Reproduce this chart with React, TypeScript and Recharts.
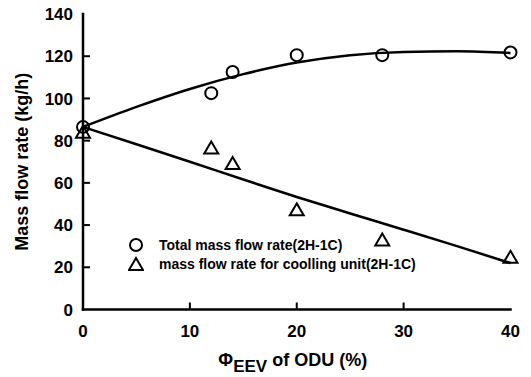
import React from 'react';
import {
  ComposedChart,
  Line,
  Scatter,
  XAxis,
  YAxis,
  Legend,
  Label,
} from 'recharts';

const FONT = '"Liberation Sans", Arial, Helvetica, sans-serif';

// measured points
const openingPct = [0, 12, 14, 20, 28, 40];
const totalFlow = [86.5, 102.5, 112.5, 120.5, 120.5, 121.8];
const coolingFlow = [84, 76.5, 69.2, 47.2, 32.9, 24.7];

// fitted curves
const fitPct = [0, 5, 10, 15, 20, 25, 30, 35, 40];
const totalFit = [86.5, 96, 104.5, 111.5, 117, 120.5, 122, 122.3, 121.5];
const coolingFit = [86.5, 78.3, 70, 61.6, 53.3, 45.5, 37.8, 30, 22];

const xTicks = [0, 10, 20, 30, 40];
const yTicks = [0, 20, 40, 60, 80, 100, 120, 140];

const seriesNames = [
  'Total mass flow rate(2H-1C)',
  'mass flow rate for coolling unit(2H-1C)',
];

const toPoints = (xs: number[], ys: number[]) => xs.map((x, i) => ({ x, y: ys[i] }));

const totalData = toPoints(openingPct, totalFlow);
const coolingData = toPoints(openingPct, coolingFlow);
const totalFitData = toPoints(fitPct, totalFit);
const coolingFitData = toPoints(fitPct, coolingFit);

const TICK_LEN = 7;
const AXIS_W = 2.5;

const isInner = (v: number, lo: number, hi: number) => v > lo && v < hi;

const BottomTick = (props: any) => {
  const { x, y, payload } = props;
  return (
    <g>
      {isInner(payload.value, 0, 40) && (
        <line x1={x} x2={x} y1={y} y2={y - TICK_LEN} stroke="#000" strokeWidth={2} />
      )}
      <text x={x} y={y + 27} textAnchor="middle" fontFamily={FONT} fontWeight="bold" fontSize={17} fill="#000">
        {payload.value}
      </text>
    </g>
  );
};

const TopTick = (props: any) => {
  const { x, y, payload } = props;
  if (!isInner(payload.value, 0, 40)) return <g />;
  return <line x1={x} x2={x} y1={y} y2={y + TICK_LEN} stroke="#000" strokeWidth={2} />;
};

const LeftTick = (props: any) => {
  const { x, y, payload } = props;
  return (
    <g>
      {isInner(payload.value, 0, 140) && (
        <line x1={x} x2={x + TICK_LEN} y1={y} y2={y} stroke="#000" strokeWidth={2} />
      )}
      <text x={x - 10} y={y} dy="0.36em" textAnchor="end" fontFamily={FONT} fontWeight="bold" fontSize={17} fill="#000">
        {payload.value}
      </text>
    </g>
  );
};

const RightTick = (props: any) => {
  const { x, y, payload } = props;
  if (!isInner(payload.value, 0, 140)) return <g />;
  return <line x1={x} x2={x - TICK_LEN} y1={y} y2={y} stroke="#000" strokeWidth={2} />;
};

const CircleMark = (props: any) => {
  const { cx, cy } = props;
  return <circle cx={cx} cy={cy} r={6} fill="none" stroke="#000" strokeWidth={2} />;
};

const TriangleMark = (props: any) => {
  const { cx, cy } = props;
  return (
    <path
      d={`M${cx},${cy - 6.5}L${cx + 7},${cy + 5.5}L${cx - 7},${cy + 5.5}Z`}
      fill="none"
      stroke="#000"
      strokeWidth={2}
      strokeLinejoin="miter"
    />
  );
};

const LegendIcon = ({ kind }: { kind: 'circle' | 'triangle' }) => (
  <svg width={16} height={16} style={{ marginRight: 15, flex: 'none' }}>
    {kind === 'circle' ? <CircleMark cx={8} cy={8} /> : <TriangleMark cx={8} cy={8.5} />}
  </svg>
);

const LegendBox = (props: any) => {
  const items = (props.payload ?? []).filter((e: any) => seriesNames.includes(e.value));
  return (
    <div style={{ fontFamily: FONT, fontWeight: 'bold', fontSize: 14, color: '#000' }}>
      {items.map((e: any) => (
        <div key={e.value} style={{ display: 'flex', alignItems: 'center', height: 18.5, whiteSpace: 'nowrap' }}>
          <LegendIcon kind={e.value === seriesNames[0] ? 'circle' : 'triangle'} />
          <span>{e.value}</span>
        </div>
      ))}
    </div>
  );
};

const YTitle = (props: any) => {
  const { viewBox } = props;
  const cy = viewBox.y + viewBox.height / 2;
  const cx = viewBox.x + 22;
  return (
    <text
      x={cx}
      y={cy}
      transform={`rotate(-90 ${cx} ${cy})`}
      textAnchor="middle"
      dominantBaseline="central"
      fontFamily={FONT}
      fontWeight="bold"
      fontSize={18}
      fill="#000"
    >
      Mass flow rate (kg/h)
    </text>
  );
};

const XTitle = (props: any) => {
  const { viewBox } = props;
  const cx = viewBox.x + viewBox.width / 2 - 4;
  return (
    <text x={cx} y={viewBox.y + 56} textAnchor="middle" fontFamily={FONT} fontWeight="bold" fontSize={18} fill="#000">
      <tspan>Φ</tspan>
      <tspan dy={6} fontSize={17}>EEV</tspan>
      <tspan dy={-6}> of ODU (%)</tspan>
    </text>
  );
};

const axisLine = { stroke: '#000', strokeWidth: AXIS_W, strokeLinecap: 'square' as const };

export default function App() {
  return (
    <div style={{ position: 'absolute', left: 0, top: 0, background: '#fff' }}>
      <ComposedChart
        width={531}
        height={377}
        margin={{ top: 14, right: 20.5, left: 0, bottom: 37.5 }}
      >
        <XAxis
          xAxisId="b"
          type="number"
          dataKey="x"
          domain={[0, 40]}
          ticks={xTicks}
          orientation="bottom"
          height={30}
          axisLine={axisLine}
          tickLine={false}
          tickSize={0}
          tickMargin={0}
          tick={<BottomTick />}
          interval={0}
        >
          <Label content={<XTitle />} />
        </XAxis>
        <XAxis
          xAxisId="t"
          type="number"
          dataKey="x"
          domain={[0, 40]}
          ticks={xTicks}
          orientation="top"
          height={0}
          axisLine={axisLine}
          tickLine={false}
          tickSize={0}
          tickMargin={0}
          tick={<TopTick />}
          interval={0}
        />
        <YAxis
          yAxisId="l"
          type="number"
          domain={[0, 140]}
          ticks={yTicks}
          width={83}
          axisLine={axisLine}
          tickLine={false}
          tickSize={0}
          tickMargin={0}
          tick={<LeftTick />}
          interval={0}
        >
          <Label content={<YTitle />} />
        </YAxis>
        <YAxis
          yAxisId="r"
          orientation="right"
          type="number"
          domain={[0, 140]}
          ticks={yTicks}
          width={0}
          axisLine={axisLine}
          tickLine={false}
          tickSize={0}
          tickMargin={0}
          tick={<RightTick />}
          interval={0}
        />
        <Legend
          layout="horizontal"
          verticalAlign="middle"
          align="center"
          content={<LegendBox />}
          wrapperStyle={{ left: 128, top: 236, width: 'auto' }}
        />
        <Line
          xAxisId="b"
          yAxisId="l"
          data={totalFitData}
          dataKey="y"
          type="monotone"
          stroke="#000"
          strokeWidth={2.5}
          dot={false}
          activeDot={false}
          legendType="none"
          isAnimationActive={false}
        />
        <Line
          xAxisId="b"
          yAxisId="l"
          data={coolingFitData}
          dataKey="y"
          type="monotone"
          stroke="#000"
          strokeWidth={2.5}
          dot={false}
          activeDot={false}
          legendType="none"
          isAnimationActive={false}
        />
        <Scatter
          xAxisId="b"
          yAxisId="l"
          name={seriesNames[0]}
          data={totalData}
          dataKey="y"
          shape={<CircleMark />}
          isAnimationActive={false}
        />
        <Scatter
          xAxisId="b"
          yAxisId="l"
          name={seriesNames[1]}
          data={coolingData}
          dataKey="y"
          shape={<TriangleMark />}
          isAnimationActive={false}
        />
      </ComposedChart>
    </div>
  );
}
